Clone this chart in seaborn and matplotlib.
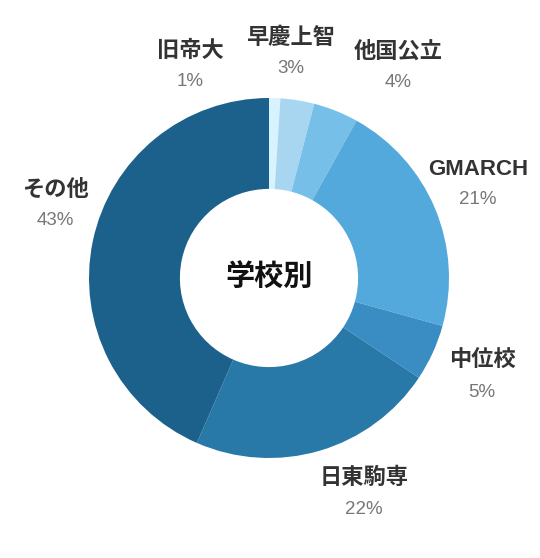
import numpy as np
import matplotlib
matplotlib.use('Agg')
import matplotlib.pyplot as plt
import seaborn as sns

# data (share of students by school group, %)
categories = ['旧帝大', '早慶上智', '他国公立', 'GMARCH', '中位校', '日東駒専', 'その他']
values = [1, 3, 4, 21, 5, 22, 43]
center_title = '学校別'

# styling
colors = ['#d8f3fd', '#a8d6f1', '#76bfe9', '#53a8dc', '#3a8dc3', '#2879a8', '#1c618b']
# label placement: (angle in degrees, radius relative to outer ring)
label_layout = [(110.5, 1.254), (84.4, 1.253), (58.5, 1.372), (24.1, 1.272),
                (-24.9, 1.305), (-66.3, 1.311), (161.2, 1.253)]

sns.set_theme(style='white')
plt.rcParams['font.family'] = ['Liberation Sans', 'Noto Sans CJK JP', 'DejaVu Sans']

W, H = 540, 558
R_PX = 180.0
CX, CY = 269, 278  # pie centre in pixels (from top-left)

fig = plt.figure(figsize=(W / 100, H / 100), dpi=100)
ax = fig.add_axes([0, 0, 1, 1])

ax.pie(values, colors=colors, startangle=90, counterclock=False,
       wedgeprops=dict(width=0.505, linewidth=0))

ax.set_xlim(-CX / R_PX, (W - CX) / R_PX)
ax.set_ylim(-(H - CY) / R_PX, CY / R_PX)
ax.set_aspect('equal')
ax.axis('off')

ax.text(0, 0, center_title, ha='center', va='center', fontsize=21,
        fontweight='bold', color='#111111')

gap = 0.085
for name, val, (ang, r) in zip(categories, values, label_layout):
    x = r * np.cos(np.radians(ang))
    y = r * np.sin(np.radians(ang))
    ax.text(x, y + gap, name, ha='center', va='center', fontsize=16,
            fontweight='bold', color='#333333')
    ax.text(x, y - gap, f'{val}%', ha='center', va='center', fontsize=13.5,
            color='#777777')

fig.savefig('out.png', dpi=100, facecolor='white')
